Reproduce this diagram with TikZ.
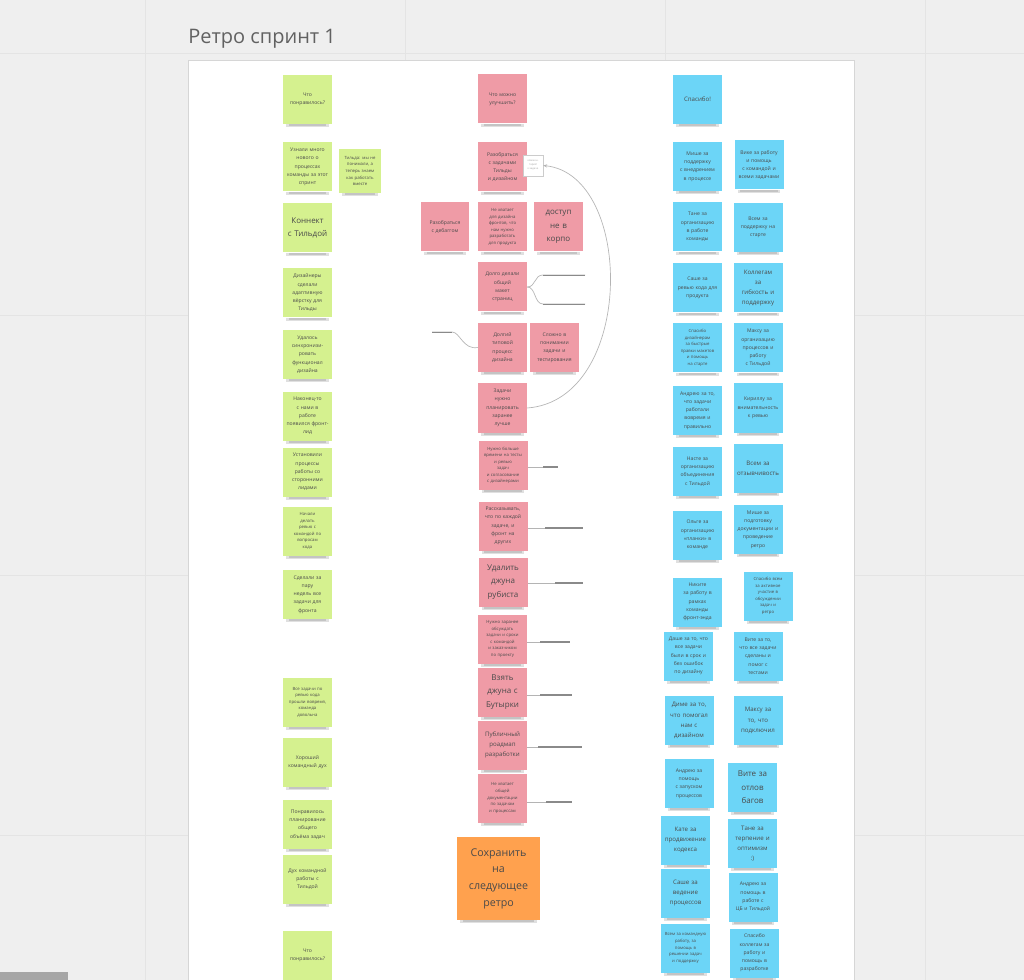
\documentclass[tikz,border=0pt]{standalone}
\usepackage{fontspec}
\setmainfont{Open Sans}
\usetikzlibrary{arrows.meta}
\definecolor{bg}{HTML}{EFEFEF}
\definecolor{gridc}{HTML}{E4E4E4}
\definecolor{framec}{HTML}{D6D6D6}
\definecolor{ngreen}{HTML}{D5F18F}
\definecolor{npink}{HTML}{EF9BA6}
\definecolor{nblue}{HTML}{6CD5F7}
\definecolor{norange}{HTML}{FFA14E}
\definecolor{notetext}{HTML}{4A4A4A}
\definecolor{titlec}{HTML}{616161}
\definecolor{connc}{HTML}{B4B4B4}
\definecolor{conndark}{HTML}{8A8A8A}
\newcommand\nfA{\fontsize{3.2}{4.9}\selectfont}
\newcommand\nfB{\fontsize{3.8}{6.2}\selectfont}
\newcommand\nfC{\fontsize{4.6}{7.6}\selectfont}
\newcommand\nfD{\fontsize{6}{10}\selectfont}
\newcommand\nfE{\fontsize{8}{12.5}\selectfont}
\tikzset{
  note/.style={minimum width=36.75pt, minimum height=36.75pt, text width=32pt,
    inner sep=0pt, align=center, text=notetext, font=\nfB},
  notesh/.style={black, opacity=0.12},
  conn/.style={draw=connc, line width=0.5pt},
  conndk/.style={draw=conndark, line width=0.9pt},
}
\newcommand\stickynote[5][]{%
  \node[note,fill=#3,#1] (#2) at #4 {#5};
  \fill[notesh] ([xshift=2.5pt]#2.south west) rectangle ([xshift=-2.5pt,yshift=-2.2pt]#2.south east);
  \fill[notesh] ([xshift=4.5pt]#2.south west) rectangle ([xshift=-4.5pt,yshift=-1.4pt]#2.south east);
}
\begin{document}
\begin{tikzpicture}[x=0.75pt,y=-0.75pt]
\useasboundingbox (0,0) rectangle (1024,980);
\clip (0,0) rectangle (1024,980);
% background
\fill[bg] (0,0) rectangle (1024,980);
\foreach \gx in {145,405,665,925} \draw[gridc, line width=0.6pt] (\gx,0) -- (\gx,980);
\foreach \gy in {53,315,575,835} \draw[gridc, line width=0.6pt] (0,\gy) -- (1024,\gy);
\fill[gray!70] (0,972) rectangle (68,980);
% title and frame
\node[anchor=base west, inner sep=0pt, text=titlec, font=\fontsize{15}{18}\selectfont] (title) at (188,44) {Ретро спринт 1};
\filldraw[fill=white, draw=framec, line width=0.5pt] (188,60) rectangle (854,995);

% ---------- green column ----------
\stickynote{g1}{ngreen}{(307.5,99.5)}{Что\\понравилось?}
\stickynote{g2}{ngreen}{(307.5,167)}{Узнали много\\нового о\\процессах\\команды за этот\\спринт}
\stickynote[minimum width=31.5pt, minimum height=33pt, text width=28pt, font=\nfA]{g2b}{ngreen}{(360,171)}{Тильда: мы не\\понимали, а\\теперь знаем\\как работать\\вместе}
\stickynote[font=\nfD]{g3}{ngreen}{(307.5,228)}{Коннект\\с Тильдой}
\stickynote{g4}{ngreen}{(307.5,293)}{Дизайнеры\\сделали\\адаптивную\\вёрстку для\\Тильды}
\stickynote{g5}{ngreen}{(307.5,354.5)}{Удалось\\синхронизи-\\ровать\\функционал\\дизайна}
\stickynote{g6}{ngreen}{(307.5,416)}{Наконец-то\\с нами в\\работе\\появился фронт-\\лид}
\stickynote{g7}{ngreen}{(307.5,472)}{Установили\\процессы\\работы со\\сторонними\\лидами}
\stickynote[font=\nfA]{g8}{ngreen}{(307.5,531)}{Начали\\делать\\ревью с\\командой по\\вопросам\\кода}
\stickynote{g9}{ngreen}{(307.5,594.5)}{Сделали за\\пару\\недель все\\задачи для\\фронта}
\stickynote[font=\nfA]{g10}{ngreen}{(307.5,702)}{Все задачи по\\ревью кода\\прошли вовремя,\\команда\\довольна}
\stickynote{g11}{ngreen}{(307.5,762.5)}{Хороший\\командный дух}
\stickynote{g12}{ngreen}{(307.5,824.5)}{Понравилось\\планирование\\общего\\объёма задач}
\stickynote{g13}{ngreen}{(307.5,879)}{Дух командной\\работы с\\Тильдой}
\stickynote{g14}{ngreen}{(307.5,955)}{Что\\понравилось?}

% ---------- pink column ----------
\stickynote{r1}{npink}{(502.5,99)}{Что можно\\улучшить?}
\stickynote{r2}{npink}{(502.5,167)}{Разобраться\\с задачами\\Тильды\\и дизайном}
\stickynote[minimum width=36pt]{r3a}{npink}{(445,227)}{Разобраться\\с дебаггом}
\stickynote[font=\nfA]{r3b}{npink}{(502.5,227)}{Не хватает\\для дизайна\\фронтов, что\\нам нужно\\разработать\\для продукта}
\stickynote[font=\nfD]{r3c}{npink}{(558.5,227)}{доступ\\не в\\корпо}
\stickynote{r4}{npink}{(502.5,287)}{Долго делали\\общий\\макет\\страниц}
\stickynote{r5}{npink}{(502.5,347.5)}{Долгий\\типовой\\процесс\\дизайна}
\stickynote{r5b}{npink}{(554.5,347.5)}{Сложно в\\понимании\\задачи и\\тестирования}
\stickynote{r6}{npink}{(502.5,408)}{Задачи\\нужно\\планировать\\заранее\\лучше}
\stickynote[font=\nfA]{r7}{npink}{(503,465.5)}{Нужно больше\\времени на тесты\\и ревью\\задач\\и согласование\\с дизайнерами}
\stickynote{r8}{npink}{(503,526)}{Рассказывать,\\что по каждой\\задаче, и\\фронт на\\других}
\stickynote[font=\nfD]{r9}{npink}{(503,582)}{Удалить\\джуна\\рубиста}
\stickynote[font=\nfA]{r10}{npink}{(502.5,639)}{Нужно заранее\\обсуждать\\задачи и сроки\\с командой\\и заказчиком\\по проекту}
\stickynote[font=\nfD]{r11}{npink}{(502.5,692)}{Взять\\джуна с\\Бутырки}
\stickynote[font=\nfC]{r12}{npink}{(502.5,745)}{Публичный\\роадмап\\разработки}
\stickynote[font=\nfA]{r13}{npink}{(502.5,798)}{Не хватает\\общей\\документации\\по задачам\\и процессам}
\stickynote[minimum width=62.25pt, minimum height=62.25pt, text width=56pt, font=\nfE]{o1}{norange}{(498.5,878.5)}{Сохранить\\на\\следующее\\ретро}

% comment box on r2
\node[draw=gray!40, fill=white, line width=0.3pt, minimum width=15pt, minimum height=15.75pt,
  inner sep=0.5pt, align=center, text=gray!70, font=\fontsize{2}{3}\selectfont] (cm) at (533,165.5) {коммен-\\тарий\\к задаче};

% ---------- blue column ----------
\stickynote[font=\nfC]{b1}{nblue}{(697.5,99.5)}{Спасибо!}
\stickynote{b2L}{nblue}{(697.5,166.5)}{Мише за\\поддержку\\с внедрением\\в процессе}
\stickynote{b2R}{nblue}{(759,165)}{Вике за работу\\и помощь\\с командой и\\всеми задачами}
\stickynote{b3L}{nblue}{(697.5,227)}{Тане за\\организацию\\в работе\\команды}
\stickynote{b3R}{nblue}{(758,227.5)}{Всем за\\поддержку на\\старте}
\stickynote{b4L}{nblue}{(697.5,288)}{Саше за\\ревью кода для\\продукта}
\stickynote[font=\nfC]{b4R}{nblue}{(758,288)}{Коллегам\\за\\гибкость и\\поддержку}
\stickynote[font=\nfA]{b5L}{nblue}{(697.5,348)}{Спасибо\\дизайнерам\\за быстрые\\правки макетов\\и помощь\\на старте}
\stickynote{b5R}{nblue}{(758,348)}{Максу за\\организацию\\процессов и\\работу\\с Тильдой}
\stickynote{b6L}{nblue}{(697.5,410.5)}{Андрею за то,\\что задачи\\работали\\вовремя и\\правильно}
\stickynote{b6R}{nblue}{(758,408)}{Кириллу за\\внимательность\\к ревью}
\stickynote{b7L}{nblue}{(697.5,471.5)}{Насте за\\организацию\\объединения\\с Тильдой}
\stickynote[font=\nfC]{b7R}{nblue}{(758,468.5)}{Всем за\\отзывчивость}
\stickynote{b8L}{nblue}{(697.5,535)}{Ольге за\\организацию\\«планки» в\\команде}
\stickynote{b8R}{nblue}{(758,529.5)}{Мише за\\подготовку\\документации и\\проведение\\ретро}
\stickynote{b9L}{nblue}{(697.5,602)}{Никите\\за работу в\\рамках\\команды\\фронт-энда}
\stickynote[font=\nfA]{b9R}{nblue}{(768,596)}{Спасибо всем\\за активное\\участие в\\обсуждении\\задач и\\ретро}
\stickynote{b10L}{nblue}{(688.5,656)}{Даше за то, что\\все задачи\\были в срок и\\без ошибок\\по дизайну}
\stickynote{b10R}{nblue}{(758,656)}{Вите за то,\\что все задачи\\сделаны и\\помог с\\тестами}
\stickynote[font=\nfC]{b11L}{nblue}{(689,720.5)}{Диме за то,\\что помогал\\нам с\\дизайном}
\stickynote[font=\nfC]{b11R}{nblue}{(758,720.5)}{Максу за\\то, что\\подключил}
\stickynote{b12L}{nblue}{(689,783.5)}{Андрею за\\помощь\\с запуском\\процессов}
\stickynote[font=\nfD]{b12R}{nblue}{(752.5,787.5)}{Вите за\\отлов\\багов}
\stickynote[font=\nfC]{b13L}{nblue}{(685.5,840)}{Кате за\\продвижение\\кодекса}
\stickynote[font=\nfC]{b13R}{nblue}{(752.5,843.5)}{Тане за\\терпение и\\оптимизм\\:)}
\stickynote[font=\nfC]{b14L}{nblue}{(685.5,893)}{Саше за\\ведение\\процессов}
\stickynote{b14R}{nblue}{(753,897)}{Андрею за\\помощь в\\работе с\\ЦБ и Тильдой}
\stickynote[font=\nfA]{b15L}{nblue}{(685.5,948)}{Всем за командную\\работу, за\\помощь в\\решении задач\\и поддержку}
\stickynote{b15R}{nblue}{(754.5,953)}{Спасибо\\коллегам за\\работу и\\помощь в\\разработке}

% ---------- connectors ----------
\draw[conn, -{Stealth[length=3pt,width=2.4pt]}] (r6.east) .. controls (635,400) and (635,175) .. (cm.east);

\coordinate (k4a) at (543,275); \coordinate (k4b) at (585,275);
\coordinate (k4c) at (543,304); \coordinate (k4d) at (585,304);
\draw[conn] (r4.east) .. controls (536,287) and (534,275) .. (k4a) -- (k4b);
\draw[conn] (r4.east) .. controls (536,287) and (534,304) .. (k4c) -- (k4d);
\draw[conndk, line width=0.6pt] (k4a) -- (k4b);
\draw[conndk, line width=0.6pt] (k4c) -- (k4d);

\coordinate (k5a) at (432,332); \coordinate (k5b) at (452,332);
\draw[conn] (r5.west) .. controls (463,350) and (460,332) .. (k5b) -- (k5a);
\draw[conndk, line width=0.6pt] (k5a) -- (k5b);

\foreach \n/\y/\xa/\xb in {r7/467/543/558, r8/528/545/583, r9/583/555/583,
  r10/642/540/570, r11/695/540/572, r12/747/538/582, r13/802/546/572}{
  \coordinate (\n a) at (\xa,\y);
  \coordinate (\n b) at (\xb,\y);
  \draw[conn] (\n.east |- \n a) -- (\n b);
  \draw[conndk] (\n a) -- (\n b);
}
\end{tikzpicture}
\end{document}
